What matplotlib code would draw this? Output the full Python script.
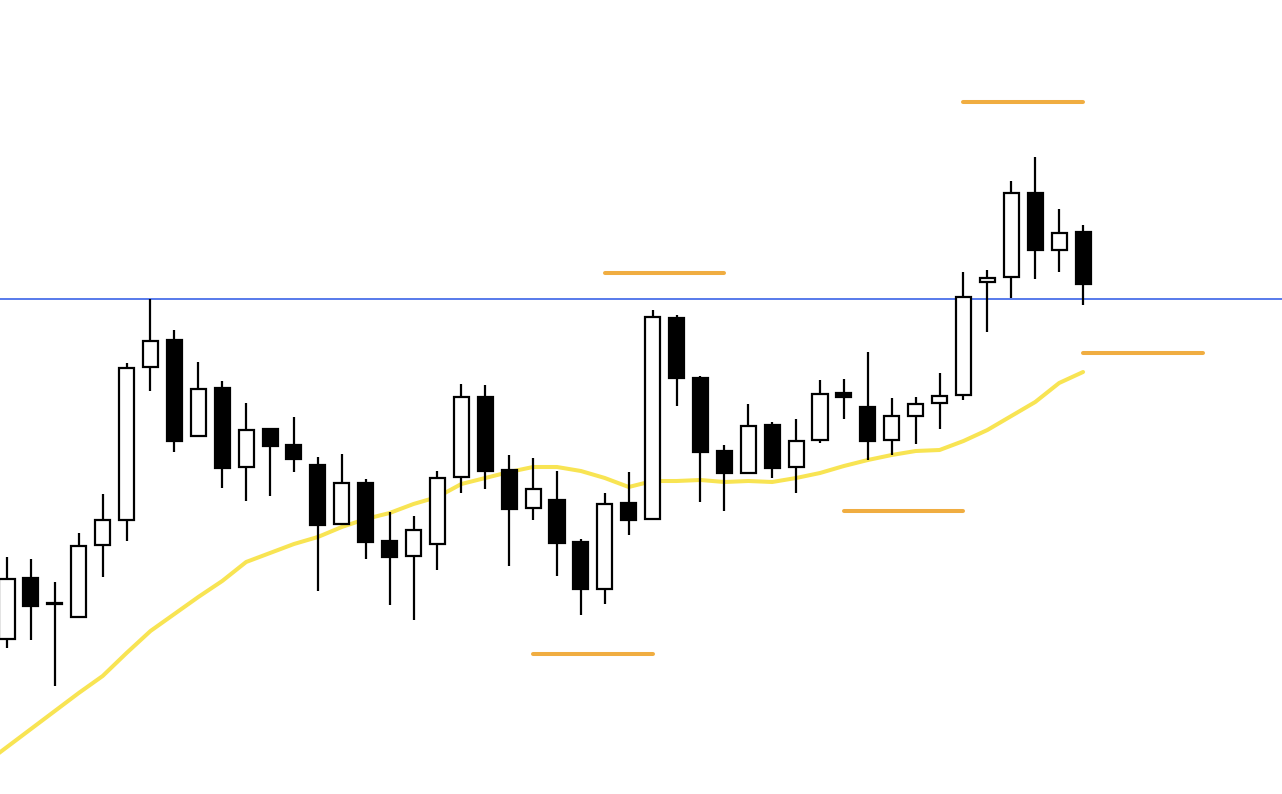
import numpy as np
import matplotlib
matplotlib.use("Agg")
import matplotlib.pyplot as plt

# 시가/고가/저가/종가 (46개 봉)
opens = [155, 216, 191, 177, 249, 274, 427, 454, 358, 406, 327, 365, 349, 329, 270, 311,
         253, 238, 250, 317, 397, 324, 286, 294, 252, 205, 291, 275, 476, 416, 343, 321,
         369, 327, 354, 401, 387, 354, 378, 391, 399, 512, 517, 601, 544, 562]
highs = [237, 235, 212, 261, 300, 431, 495, 464, 432, 413, 391, 365, 377, 337, 340, 315,
         282, 278, 323, 410, 409, 339, 336, 323, 255, 301, 322, 484, 479, 418, 349, 390,
         372, 375, 414, 415, 442, 396, 397, 421, 522, 524, 613, 637, 585, 569]
lows = [146, 154, 108, 177, 217, 253, 403, 342, 358, 306, 293, 298, 322, 203, 270, 235,
        189, 174, 224, 301, 305, 228, 274, 218, 179, 190, 259, 275, 388, 292, 283, 321,
        316, 301, 351, 375, 334, 339, 350, 365, 394, 462, 496, 515, 522, 489]
closes = [215, 188, 190, 248, 274, 426, 453, 353, 405, 326, 364, 348, 335, 269, 311, 252,
          237, 264, 316, 397, 323, 285, 305, 251, 205, 290, 274, 477, 416, 342, 321, 368,
          326, 353, 400, 397, 353, 378, 390, 398, 497, 516, 601, 544, 561, 510]

# 이동평균 (첫 값은 화면 왼쪽 밖 봉)
ma = [29, 47, 65, 83, 101, 118, 141, 163, 180, 197, 213, 232, 241, 250, 257, 267, 275,
      281, 290, 297, 310, 316, 322, 327, 327, 323, 316, 307, 313, 313, 314, 312, 313, 312,
      316, 321, 328, 334, 339, 343, 344, 353, 364, 378, 392, 411, 422]

resistance = 495.5
# 주황 수평선: (시작 봉, 끝 봉, 가격)
levels = [(40, 45, 692), (25, 30, 521), (45, 50, 441), (35, 40, 283), (22, 27, 140.5)]

fig = plt.figure(figsize=(12.82, 7.94), dpi=100)
ax = fig.add_axes([0, 0, 1, 1])

x = np.arange(len(opens))
o = np.array(opens, float); c = np.array(closes, float)
up = c >= o

ax.plot(np.arange(-1, len(ma) - 1), ma, color="#F8E453", lw=2.9, zorder=1,
        solid_capstyle="round")
ax.axhline(resistance, color="#3B63E8", lw=1.2, zorder=1)
for x0, x1, y in levels:
    ax.plot([x0, x1], [y, y], color="#F0AD41", lw=2.9, solid_capstyle="round", zorder=1)

ax.vlines(x, lows, highs, color="black", lw=1.6, zorder=2)
ax.bar(x, np.abs(c - o), bottom=np.minimum(o, c), width=0.63,
       color=np.where(up, "white", "black"), edgecolor="black", lw=1.6, zorder=3)

ax.set_xlim(-0.293, 53.32)
ax.set_ylim(0, 794)
ax.axis("off")
fig.savefig("out.png", dpi=100, facecolor="white")
